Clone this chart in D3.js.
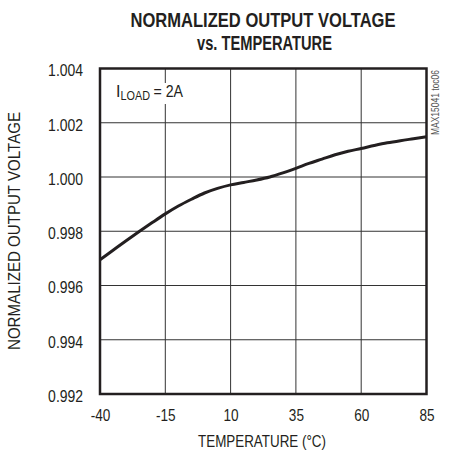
<!DOCTYPE html>
<html><head><meta charset="utf-8">
<script src="https://cdn.jsdelivr.net/npm/d3@7"></script>
<style>body{margin:0;background:#fff}svg{display:block}</style>
</head><body>
<svg id="c" width="453" height="456"></svg>
<script>
const temps = [-40,-35,-30,-25,-20,-15,-10,-5,0,5,10,15,20,25,30,35,40,45,50,55,60,65,70,75,80,85];
const vout  = [0.99695,0.99730,0.99765,0.99799,0.99832,0.99864,0.99893,0.99918,0.99941,0.99958,0.99971,0.99980,0.99989,1.00000,1.00015,1.00032,1.00050,1.00066,1.00082,1.00095,1.00105,1.00116,1.00126,1.00134,1.00141,1.00148];
const xTicks = [-40,-15,10,35,60,85];
const yTicks = [0.992,0.994,0.996,0.998,1.000,1.002,1.004];

const svg = d3.select("#c");
const font = "'Liberation Sans',Arial,sans-serif";
const ink = "#231f20";
const L=100,R=426.5,T=68.5,B=394;
const x = d3.scaleLinear().domain([-40,85]).range([L,R]);
const y = d3.scaleLinear().domain([0.992,1.004]).range([B,T]);

function condense(sel, f){
  sel.each(function(){
    const w = this.getComputedTextLength();
    this.setAttribute("textLength", (w*f).toFixed(2));
    this.setAttribute("lengthAdjust","spacingAndGlyphs");
  });
}

// title
svg.append("text").attr("x",263).attr("y",27).attr("text-anchor","middle")
  .attr("font-family",font).attr("font-weight","bold").attr("font-size",20)
  .attr("textLength",265).attr("lengthAdjust","spacingAndGlyphs").attr("fill",ink)
  .text("NORMALIZED OUTPUT VOLTAGE");
svg.append("text").attr("x",264.5).attr("y",50).attr("text-anchor","middle")
  .attr("font-family",font).attr("font-weight","bold").attr("font-size",20)
  .attr("textLength",135).attr("lengthAdjust","spacingAndGlyphs").attr("fill",ink)
  .text("vs. TEMPERATURE");

// grid
const g = svg.append("g");
g.selectAll("line.v").data(xTicks.slice(1,-1)).join("line")
  .attr("x1",d=>x(d)).attr("x2",d=>x(d)).attr("y1",T).attr("y2",B)
  .attr("stroke","#333").attr("stroke-width",1);
g.selectAll("line.h").data(yTicks.slice(1,-1)).join("line")
  .attr("y1",d=>y(d)).attr("y2",d=>y(d)).attr("x1",L).attr("x2",R)
  .attr("stroke","#333").attr("stroke-width",1);

// white box behind label
svg.append("rect").attr("x",113).attr("y",83).attr("width",74).attr("height",21).attr("fill","#fff");
const lg = svg.append("g").attr("font-family",font).attr("fill",ink);
lg.append("text").attr("x",116).attr("y",96.5).attr("font-size",16).text("I");
lg.append("text").attr("x",120.5).attr("y",100).attr("font-size",13)
  .attr("textLength",29.5).attr("lengthAdjust","spacingAndGlyphs").text("LOAD");
lg.append("text").attr("x",153.5).attr("y",96.5).attr("font-size",16)
  .attr("textLength",29.5).attr("lengthAdjust","spacingAndGlyphs").text("= 2A");

// curve
svg.append("path").datum(temps.map((t,i)=>[t,vout[i]]))
  .attr("d",d3.line().x(d=>x(d[0])).y(d=>y(d[1])).curve(d3.curveMonotoneX))
  .attr("fill","none").attr("stroke",ink).attr("stroke-width",3);

// frame
svg.append("rect").attr("x",L).attr("y",T).attr("width",R-L).attr("height",B-T)
  .attr("fill","none").attr("stroke",ink).attr("stroke-width",2.5);

// axes labels
const xa = svg.append("g").attr("transform",`translate(0,${B})`)
  .call(d3.axisBottom(x).tickValues(xTicks).tickSize(0).tickPadding(0).tickFormat(d=>String(d)));
xa.select(".domain").remove();
xa.selectAll("text").attr("y",27).attr("dy",0).attr("font-family",font).attr("font-size",17).attr("fill",ink);
condense(xa.selectAll("text"),0.8);

const ya = svg.append("g").attr("transform",`translate(${L},0)`)
  .call(d3.axisLeft(y).tickValues(yTicks).tickSize(0).tickPadding(0).tickFormat(d3.format(".3f")));
ya.select(".domain").remove();
ya.selectAll("text").attr("x",-17).attr("dy","0.35em").attr("y",1.5).attr("font-family",font).attr("font-size",17).attr("fill",ink);
condense(ya.selectAll("text"),0.82);

svg.append("text").attr("x",262).attr("y",447).attr("text-anchor","middle")
  .attr("font-family",font).attr("font-size",17).attr("fill",ink)
  .attr("textLength",128).attr("lengthAdjust","spacingAndGlyphs").text("TEMPERATURE (°C)");
svg.append("text").attr("transform","translate(20,231) rotate(-90)").attr("text-anchor","middle")
  .attr("font-family",font).attr("font-size",17).attr("fill",ink)
  .attr("textLength",238).attr("lengthAdjust","spacingAndGlyphs").text("NORMALIZED OUTPUT VOLTAGE");
svg.append("text").attr("transform","translate(439,70) rotate(-90)").attr("text-anchor","end")
  .attr("font-family",font).attr("font-size",10).attr("fill","#555")
  .attr("textLength",65).attr("lengthAdjust","spacingAndGlyphs").text("MAX15041 toc06");
</script>
</body></html>
